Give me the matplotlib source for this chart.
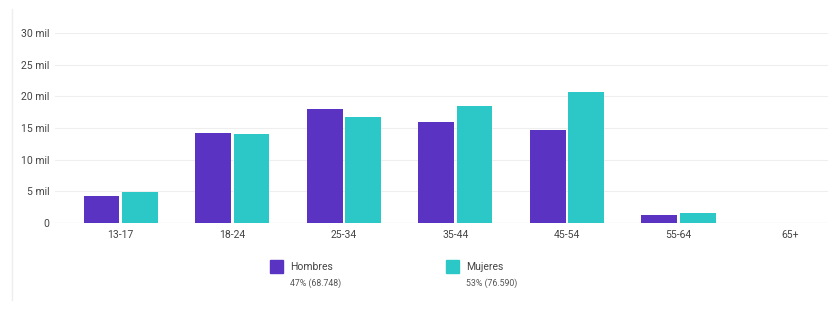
import numpy as np
import matplotlib.pyplot as plt
from matplotlib.lines import Line2D
from matplotlib.patches import Rectangle

plt.rcParams['font.family'] = ['Roboto', 'DejaVu Sans']

categories = ['13-17', '18-24', '25-34', '35-44', '45-54', '55-64', '65+']
hombres = [4.3, 14.2, 18.0, 16.0, 14.7, 1.2, 0.0]
mujeres = [4.9, 14.0, 16.7, 18.5, 20.7, 1.6, 0.0]
y_ticks = [0, 5, 10, 15, 20, 25, 30]
y_labels = ['0', '5 mil', '10 mil', '15 mil', '20 mil', '25 mil', '30 mil']
series_names = ['Hombres', 'Mujeres']
series_notes = ['47% (68.748)', '53% (76.590)']

purple = '#5b33c3'
teal = '#2cc8c8'

fig = plt.figure(figsize=(8.34, 3.09), dpi=100)
ax = fig.add_axes([55 / 834, 1 - 223 / 309, (828 - 55) / 834, (223 - 33) / 309])

x = np.arange(len(categories))
w = 0.32
ax.bar(x - w / 2 - 0.012, hombres, w, color=purple)
ax.bar(x + w / 2 + 0.012, mujeres, w, color=teal)

ax.set_xlim(-0.59, 6.34)
ax.set_ylim(0, 30)
ax.set_yticks(y_ticks)
ax.set_yticklabels(y_labels)
ax.set_xticks(x)
ax.set_xticklabels(categories)
ax.grid(axis='y', color='#eeeeee', linewidth=0.8)
ax.set_axisbelow(True)
for s in ax.spines.values():
    s.set_visible(False)
ax.axhline(0, color='#d5d5d5', linewidth=0.8, zorder=0)
ax.tick_params(axis='both', length=0, labelsize=7.5, labelcolor='#444444')
ax.tick_params(axis='y', pad=4)
ax.tick_params(axis='x', pad=5)

# thin border on the left
fig.add_artist(Line2D([12 / 834, 12 / 834], [0.03, 0.97], color='#eeeeee', linewidth=1))

# legend
for i, (name, note, col) in enumerate(zip(series_names, series_notes, [purple, teal])):
    x0 = (270 if i == 0 else 446) / 834
    fig.add_artist(Rectangle((x0, 1 - 273 / 309), 13 / 834, 13 / 309,
                             transform=fig.transFigure, color=col))
    fig.text(x0 + 20 / 834, 1 - 267 / 309, name, fontsize=7.5, color='#444444', va='center')
    fig.text(x0 + 20 / 834, 1 - 283 / 309, note, fontsize=6.3, color='#555555', va='center')

plt.savefig('out.png', dpi=100)
